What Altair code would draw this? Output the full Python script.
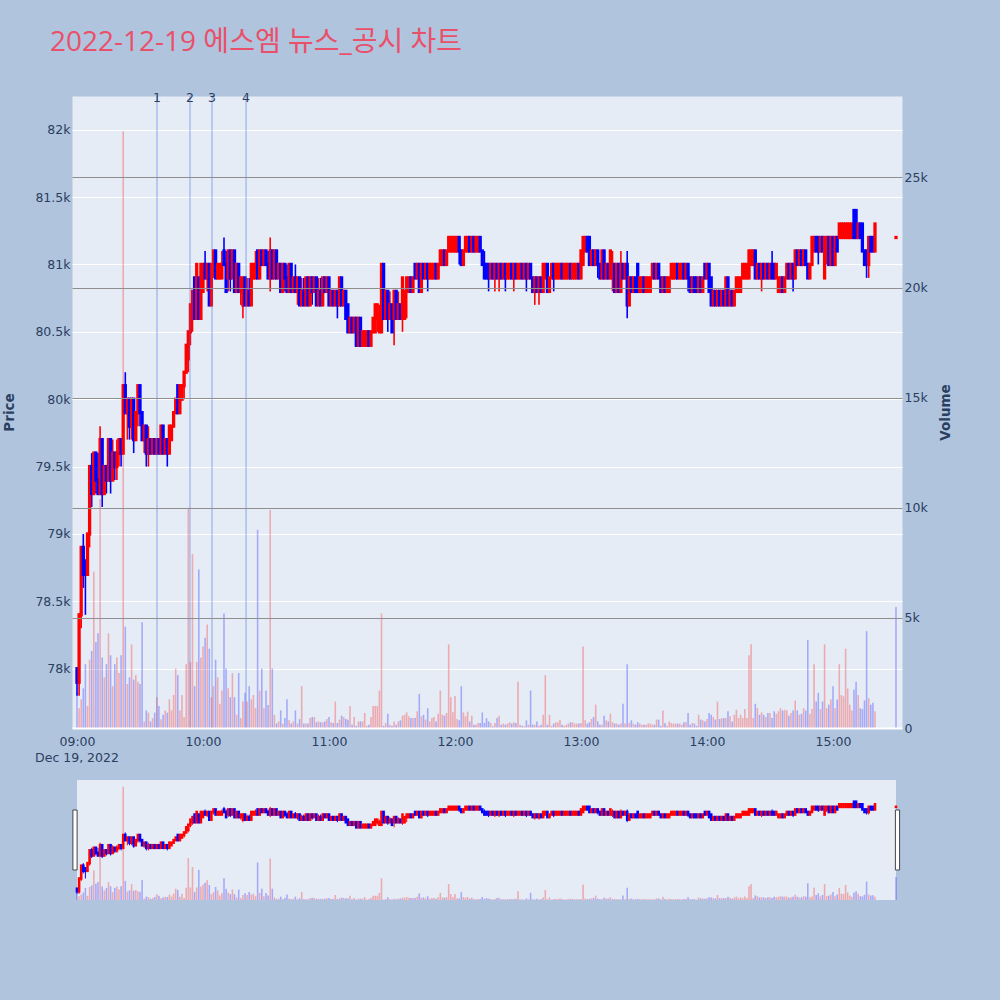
import altair as alt
import pandas as pd

# One-minute candles for 2022-12-19, 09:00 onwards (index = minutes after 09:00).
# Prices are written in units of 100 won (810 -> 81,000 won).
PRICE_UNIT = 100

open_ = [
    780, 779, 784, 789, 788, 787, 790, 795, 793, 796,
    794, 793, 797, 793, 795, 794, 797, 794, 796, 795,
    796, 797, 796, 801, 799, 800, 798, 800, 797, 799,
    801, 799, 797, 798, 796, 797, 796, 797, 796, 797,
    796, 798, 796, 797, 796, 797, 798, 799, 801, 799,
    800, 801, 802, 803, 805, 806, 809, 806, 809, 806,
    808, 810, 809, 810, 807, 810, 811, 809, 809, 809,
    811, 810, 809, 811, 809, 811, 808, 810, 808, 807,
    809, 807, 808, 807, 809, 809, 811, 809, 811, 810,
    811, 810, 809, 811, 809, 811, 809, 810, 808, 810,
    809, 808, 810, 808, 809, 808, 809, 807, 808, 807,
    809, 807, 809, 808, 809, 807, 808, 807, 809, 808,
    809, 807, 808, 807, 808, 807, 809, 807, 808, 807,
    805, 806, 805, 806, 804, 806, 804, 804, 804, 805,
    804, 805, 805, 806, 805, 805, 810, 806, 808, 806,
    807, 806, 808, 806, 807, 806, 806, 808, 808, 809,
    808, 810, 809, 810, 808, 810, 809, 810, 809, 809,
    809, 810, 809, 810, 810, 811, 810, 811, 811, 811,
    811, 811, 812, 811, 810, 811, 811, 812, 811, 812,
    811, 811, 812, 811, 810, 810, 810, 809, 810, 809,
    810, 809, 810, 809, 810, 809, 809, 810, 809, 810,
    809, 809, 810, 809, 810, 809, 810, 809, 808, 809,
    808, 809, 808, 809, 810, 808, 809, 810, 809, 809,
    809, 810, 809, 809, 809, 810, 809, 809, 809, 810,
    809, 810, 811, 812, 812, 810, 811, 810, 811, 810,
    809, 811, 809, 810, 809, 809, 810, 808, 810, 808,
    810, 809, 810, 807, 809, 808, 809, 810, 808, 808,
    809, 808, 808, 808, 809, 810, 809, 810, 809, 808,
    809, 808, 808, 809, 809, 809, 810, 809, 809, 810,
    809, 810, 809, 808, 809, 809, 808, 809, 808, 810,
    809, 810, 809, 807, 808, 807, 808, 807, 808, 807,
    809, 807, 808, 807, 808, 808, 808, 809, 809, 809,
    809, 810, 810, 811, 809, 810, 809, 810, 809, 810,
    809, 810, 810, 809, 808, 808, 809, 808, 809, 810,
    809, 810, 809, 811, 810, 811, 810, 811, 810, 809,
    810, 811, 812, 812, 811, 812, 809, 811, 812, 810,
    812, 810, 812, 812, 812, 812, 812, 812, 812, 812,
    814, 814, 812, 813, 813, 811, 811, 810, 812, 812,
    811,
]

high = [
    780, 784, 789, 790, 788, 790, 795, 796, 796, 796,
    796, 798, 797, 795, 795, 797, 797, 797, 796, 797,
    797, 797, 801, 802, 800, 800, 800, 800, 799, 801,
    801, 799, 798, 798, 798, 797, 797, 797, 797, 797,
    798, 798, 797, 797, 798, 798, 799, 800, 801, 801,
    801, 802, 804, 805, 807, 808, 809, 810, 809, 810,
    810, 811, 810, 810, 810, 811, 811, 810, 810, 811,
    812, 811, 811, 811, 811, 811, 810, 810, 809, 809,
    809, 809, 809, 810, 810, 811, 811, 811, 811, 811,
    811, 811, 812, 811, 811, 811, 810, 810, 810, 810,
    810, 810, 810, 809, 810, 809, 809, 809, 809, 809,
    809, 809, 809, 809, 809, 809, 809, 809, 809, 809,
    809, 808, 808, 808, 808, 809, 809, 808, 808, 807,
    806, 806, 806, 806, 806, 806, 805, 805, 805, 805,
    805, 806, 807, 807, 807, 810, 810, 808, 808, 808,
    807, 808, 808, 808, 807, 809, 808, 809, 809, 809,
    809, 810, 810, 810, 810, 810, 810, 810, 810, 810,
    810, 810, 810, 811, 811, 811, 811, 812, 812, 812,
    812, 812, 812, 811, 811, 812, 812, 812, 812, 812,
    812, 812, 812, 811, 811, 810, 810, 810, 810, 810,
    810, 810, 810, 810, 810, 810, 810, 810, 810, 810,
    810, 810, 810, 810, 810, 810, 810, 809, 809, 809,
    809, 809, 810, 810, 810, 809, 810, 810, 810, 810,
    810, 810, 810, 810, 810, 810, 810, 810, 810, 810,
    811, 812, 812, 812, 812, 811, 811, 811, 811, 810,
    811, 811, 810, 810, 811, 811, 810, 810, 810, 811,
    810, 810, 811, 809, 809, 809, 809, 810, 809, 809,
    809, 809, 809, 809, 810, 810, 810, 810, 809, 809,
    809, 809, 809, 810, 810, 810, 810, 810, 810, 810,
    810, 810, 809, 809, 809, 809, 809, 809, 809, 810,
    810, 810, 809, 808, 808, 808, 808, 808, 808, 809,
    809, 808, 808, 808, 809, 809, 809, 810, 810, 810,
    811, 811, 811, 811, 810, 810, 810, 810, 810, 810,
    810, 811, 810, 810, 809, 809, 809, 809, 810, 810,
    810, 810, 811, 811, 811, 811, 811, 811, 810, 810,
    812, 812, 812, 812, 812, 812, 812, 812, 812, 812,
    812, 812, 812, 813, 813, 813, 813, 813, 813, 813,
    814, 814, 813, 813, 813, 811, 811, 812, 812, 812,
    813,
]

low = [
    778, 778, 783, 786, 784, 787, 789, 792, 793, 793,
    793, 793, 792, 793, 793, 794, 793, 794, 794, 794,
    795, 795, 796, 799, 797, 797, 797, 796, 797, 798,
    798, 797, 796, 795, 795, 796, 796, 796, 796, 796,
    796, 796, 796, 795, 796, 797, 798, 799, 799, 799,
    800, 800, 802, 802, 804, 805, 806, 806, 806, 806,
    808, 809, 808, 807, 807, 809, 809, 809, 809, 809,
    810, 808, 808, 808, 809, 808, 808, 808, 807, 806,
    807, 807, 807, 807, 809, 809, 809, 809, 810, 810,
    810, 809, 808, 809, 809, 809, 809, 808, 808, 808,
    808, 808, 808, 808, 808, 807, 807, 807, 807, 807,
    807, 807, 807, 808, 807, 807, 807, 807, 808, 808,
    807, 807, 807, 807, 806, 807, 807, 807, 806, 805,
    805, 805, 805, 804, 804, 804, 804, 804, 804, 804,
    804, 805, 805, 805, 805, 805, 806, 806, 805, 806,
    805, 804, 806, 806, 806, 805, 806, 806, 808, 808,
    808, 809, 809, 808, 808, 809, 809, 808, 809, 809,
    809, 809, 809, 810, 810, 810, 810, 811, 811, 811,
    811, 811, 810, 810, 810, 811, 811, 811, 811, 811,
    811, 811, 811, 810, 809, 809, 808, 809, 809, 808,
    809, 808, 809, 809, 808, 809, 809, 809, 808, 809,
    809, 809, 809, 809, 808, 809, 809, 808, 807, 808,
    807, 808, 808, 809, 808, 808, 809, 808, 809, 809,
    809, 809, 809, 809, 809, 809, 809, 809, 809, 809,
    809, 810, 811, 811, 810, 810, 810, 810, 809, 809,
    809, 809, 809, 809, 809, 808, 808, 808, 808, 808,
    809, 809, 806, 807, 808, 808, 808, 808, 808, 808,
    808, 808, 808, 808, 809, 809, 809, 809, 808, 808,
    808, 808, 808, 809, 809, 809, 809, 809, 809, 809,
    809, 808, 808, 808, 808, 808, 808, 808, 808, 809,
    809, 808, 807, 807, 807, 807, 807, 807, 807, 807,
    807, 807, 807, 807, 808, 808, 808, 809, 809, 809,
    809, 810, 810, 809, 809, 809, 808, 809, 809, 809,
    809, 809, 809, 809, 808, 808, 808, 808, 809, 809,
    809, 808, 809, 810, 810, 810, 810, 810, 809, 809,
    810, 811, 811, 810, 811, 811, 809, 810, 810, 810,
    810, 810, 811, 812, 812, 812, 812, 812, 812, 812,
    812, 812, 812, 812, 811, 810, 809, 809, 811, 811,
    811,
]

close = [
    779, 784, 789, 787, 787, 790, 795, 793, 796, 794,
    793, 797, 793, 795, 794, 797, 794, 796, 795, 796,
    797, 796, 801, 799, 800, 798, 800, 797, 799, 801,
    799, 797, 798, 796, 797, 796, 797, 796, 797, 796,
    798, 796, 797, 796, 798, 798, 799, 800, 799, 801,
    801, 802, 804, 805, 807, 808, 806, 810, 806, 810,
    810, 809, 810, 807, 810, 811, 809, 810, 810, 810,
    810, 808, 811, 809, 811, 808, 810, 808, 809, 809,
    807, 808, 807, 810, 810, 810, 809, 811, 810, 811,
    810, 809, 811, 809, 811, 809, 810, 808, 810, 809,
    808, 810, 808, 809, 808, 809, 807, 808, 807, 809,
    807, 809, 808, 809, 807, 808, 807, 809, 808, 809,
    807, 808, 807, 808, 807, 809, 807, 808, 806, 805,
    806, 805, 806, 804, 806, 804, 805, 805, 805, 804,
    805, 806, 807, 807, 806, 810, 806, 808, 806, 807,
    805, 808, 806, 807, 806, 809, 808, 809, 809, 808,
    809, 809, 810, 808, 810, 809, 810, 809, 810, 810,
    810, 809, 810, 811, 811, 810, 811, 812, 812, 812,
    812, 812, 811, 810, 811, 812, 812, 811, 812, 811,
    812, 812, 811, 810, 809, 809, 809, 810, 809, 810,
    809, 810, 809, 810, 809, 810, 810, 809, 810, 809,
    810, 810, 809, 810, 809, 810, 809, 808, 809, 808,
    809, 808, 810, 810, 808, 809, 810, 809, 810, 810,
    810, 809, 810, 810, 810, 809, 810, 810, 810, 809,
    811, 812, 812, 811, 810, 811, 810, 811, 810, 809,
    811, 809, 810, 809, 811, 810, 808, 810, 808, 810,
    809, 810, 807, 809, 808, 809, 808, 808, 809, 809,
    808, 809, 809, 809, 810, 809, 810, 809, 808, 809,
    808, 809, 809, 810, 810, 810, 809, 810, 810, 809,
    810, 809, 808, 809, 808, 808, 809, 808, 809, 809,
    810, 808, 807, 808, 807, 808, 807, 808, 807, 809,
    807, 808, 807, 808, 809, 809, 809, 810, 810, 810,
    811, 811, 811, 809, 810, 809, 810, 809, 810, 809,
    810, 809, 809, 810, 809, 809, 808, 809, 810, 809,
    810, 809, 811, 810, 811, 810, 811, 810, 809, 810,
    812, 812, 811, 811, 812, 811, 812, 812, 810, 812,
    810, 812, 811, 813, 813, 813, 813, 813, 813, 813,
    812, 812, 813, 812, 811, 810, 810, 812, 811, 811,
    813,
]

volume = [
    1600, 900, 1300, 1800, 2900, 1000, 3100, 3500, 7100, 3900,
    4300, 10400, 3200, 2300, 2900, 4300, 3300, 1900, 2900, 3200,
    2500, 3300, 27100, 4600, 2000, 2300, 3800, 2200, 2400, 2100,
    2000, 4800, 300, 800, 700, 300, 450, 700, 1400, 1000,
    400, 600, 800, 700, 1300, 800, 1500, 2700, 2400, 800,
    1500, 500, 2900, 10000, 3000, 7900, 1900, 3000, 7200, 3200,
    3700, 4100, 4700, 3600, 1400, 1900, 3100, 2300, 1100, 1700,
    5200, 2700, 1800, 1400, 2500, 1400, 600, 2500, 450, 1200,
    1600, 1200, 1900, 1300, 1500, 900, 9000, 1700, 2700, 900,
    1700, 1050, 9900, 2700, 600, 200, 300, 800, 200, 450,
    1300, 350, 200, 300, 800, 200, 400, 1900, 200, 200,
    200, 450, 500, 500, 260, 300, 260, 260, 300, 410,
    500, 260, 230, 1200, 230, 380, 560, 500, 410, 380,
    1000, 150, 500, 100, 300, 300, 300, 680, 100, 150,
    500, 1000, 1000, 1000, 1700, 5200, 100, 230, 650, 150,
    100, 300, 150, 300, 350, 560, 600, 710, 530, 450,
    450, 450, 760, 1550, 530, 600, 380, 900, 300, 450,
    500, 300, 650, 1700, 600, 560, 680, 3800, 1400, 710,
    1450, 410, 350, 1900, 710, 530, 740, 300, 560, 150,
    150, 230, 230, 710, 230, 450, 300, 230, 80, 230,
    450, 560, 150, 200, 150, 200, 260, 200, 260, 230,
    2100, 150, 100, 80, 350, 150, 1700, 150, 150, 300,
    100, 150, 600, 2400, 150, 600, 100, 200, 260, 260,
    380, 150, 100, 150, 200, 260, 260, 200, 200, 200,
    230, 3700, 350, 200, 260, 410, 500, 1060, 300, 150,
    150, 560, 350, 300, 650, 260, 200, 200, 150, 200,
    1100, 200, 2900, 230, 350, 200, 150, 260, 200, 150,
    150, 150, 200, 200, 150, 150, 380, 380, 100, 800,
    230, 100, 300, 230, 200, 200, 200, 200, 150, 260,
    260, 680, 150, 230, 200, 100, 600, 380, 350, 300,
    410, 680, 600, 500, 380, 1200, 410, 450, 450, 450,
    760, 530, 300, 600, 830, 450, 600, 450, 860, 450,
    3300, 3800, 450, 1100, 900, 600, 710, 600, 500, 680,
    680, 450, 760, 650, 760, 900, 800, 830, 800, 560,
    680, 800, 1250, 800, 600, 650, 900, 800, 4000, 650,
    860, 2900, 1200, 1600, 860, 1200, 3800, 900, 1060, 1290,
    1900, 900, 1290, 2900, 1500, 1440, 3600, 1800, 1060, 800,
    1750, 2100, 1500, 900, 860, 1250, 4400, 1350, 1060, 1150,
    760,
]

# Closing single-price auction print
closing_time = "15:30"
closing_price = 812
closing_volume = 5500

# News / disclosure markers
news_times = ["09:38:06", "09:53:48", "10:04:18", "10:20:30"]
news_labels = ["1", "2", "3", "4"]

trade_date = "Dec 19, 2022"
title_text = "2022-12-19 에스엠 뉴스_공시 차트"

price_ticks = [78000, 78500, 79000, 79500, 80000, 80500, 81000, 81500, 82000]
volume_ticks = [0, 5000, 10000, 15000, 20000, 25000]
hour_ticks = [0, 60, 120, 180, 240, 300, 360]

UP, DOWN = "#FF0000", "#0000FF"
INK = "#2a3f5f"
FONT = "DejaVu Sans"
TICK_SIZE = 12.5


def to_minutes(hms):
    parts = [int(p) for p in hms.split(":")]
    secs = parts[2] / 60 if len(parts) > 2 else 0
    return (parts[0] - 9) * 60 + parts[1] + secs


rows = []
for i, (o, h, l, c, v) in enumerate(zip(open_, high, low, close, volume)):
    d = "up" if c >= o else "down"
    rows.append(dict(t=i, open=o * PRICE_UNIT, high=h * PRICE_UNIT, low=l * PRICE_UNIT,
                     close=c * PRICE_UNIT, volume=v, candle_dir=d, volume_dir=d))
rows.append(dict(t=to_minutes(closing_time), open=closing_price * PRICE_UNIT,
                 high=closing_price * PRICE_UNIT, low=closing_price * PRICE_UNIT,
                 close=closing_price * PRICE_UNIT, volume=closing_volume,
                 candle_dir="up", volume_dir="down"))
df = pd.DataFrame(rows)

news_df = pd.DataFrame({"t": [to_minutes(s) for s in news_times], "label": news_labels})
date_df = pd.DataFrame({"t": [0], "label": [trade_date]})
span_df = pd.DataFrame({"start": [0], "end": [to_minutes(closing_time)]})
handle_left = pd.DataFrame({"t": [0]})
handle_right = pd.DataFrame({"t": [to_minutes(closing_time)]})

W, H = 830, 632
SH = 120
GAP = 52

x_scale = alt.Scale(domain=[-2.38, 392.86], nice=False, zero=False, padding=0)
price_scale = alt.Scale(domain=[77560, 82250], nice=False, zero=False)
vol_scale = alt.Scale(domain=[0, 28700], nice=False)
dir_scale = alt.Scale(domain=["up", "down"], range=[UP, DOWN])

x_axis = alt.Axis(values=hour_ticks,
                  labelExpr="(datum.value < 60 ? '0' : '') + (9 + datum.value / 60) + ':00'",
                  grid=False, ticks=False, domain=False, labelPadding=7,
                  labelFontSize=TICK_SIZE, labelColor=INK, labelFont=FONT, title=None)
X = alt.X("t:Q", scale=x_scale, axis=x_axis)

price_axis = alt.Axis(values=price_ticks, format="~s", grid=True, gridColor="white",
                      gridWidth=1, ticks=False, domain=False, labelPadding=2,
                      labelFontSize=TICK_SIZE, labelColor=INK, labelFont=FONT,
                      title="Price", titleFontSize=13.5, titleFontWeight="bold",
                      titleColor=INK, titleFont=FONT, titlePadding=18, orient="left")
vol_axis = alt.Axis(values=volume_ticks, orient="right", grid=True,
                    labelExpr="datum.value === 0 ? '0' : format(datum.value, '~s')",
                    gridColor={"condition": {"test": "datum.value === 0", "value": "#ffffff"},
                               "value": "#8f8f8f"},
                    gridWidth={"condition": {"test": "datum.value === 0", "value": 2},
                               "value": 1},
                    ticks=False, domain=False, labelPadding=2, labelFontSize=TICK_SIZE,
                    labelColor=INK, labelFont=FONT, title="Volume", titleFontSize=13.5,
                    titleFontWeight="bold", titleColor=INK, titleFont=FONT,
                    titleAngle=270, titlePadding=25, zindex=1)

base = alt.Chart(df)
candle_color = alt.Color("candle_dir:N", scale=dir_scale, legend=None)
volume_color = alt.Color("volume_dir:N", scale=dir_scale, legend=None)

# --- main panel -------------------------------------------------------------
wick = base.mark_rule(strokeWidth=1.6).encode(
    x=X, y=alt.Y("low:Q", scale=price_scale, axis=price_axis), y2="high:Q",
    color=candle_color)
body = base.mark_rule(strokeWidth=3.3, strokeCap="square").encode(
    x=X, y=alt.Y("open:Q", scale=price_scale, axis=price_axis), y2="close:Q",
    color=candle_color)
price_layer = alt.layer(wick, body)

vol_bars = base.mark_bar(size=1.6, opacity=0.28).encode(
    x=X, y=alt.Y("volume:Q", scale=vol_scale, axis=vol_axis), color=volume_color)

news_lines = alt.Chart(news_df).mark_rule(color="#4169E1", opacity=0.45, strokeWidth=1.2).encode(x=X)
news_text = alt.Chart(news_df).mark_text(fontSize=TICK_SIZE, color=INK, font=FONT,
                                         baseline="middle").encode(
    x=X, y=alt.value(2), text="label:N")
date_text = alt.Chart(date_df).mark_text(fontSize=TICK_SIZE, color=INK, font=FONT,
                                         baseline="middle").encode(
    x=X, y=alt.value(H + 30), text="label:N")

main = alt.layer(price_layer, vol_bars, news_lines, news_text, date_text).resolve_scale(
    y="independent").properties(width=W, height=H,
                                view=alt.ViewBackground(fill="#E5ECF6", stroke="transparent"))

# --- range slider -----------------------------------------------------------
XS = alt.X("t:Q", scale=x_scale, axis=None)
slider_bg = alt.Chart(span_df).mark_rect(color="#E5ECF6").encode(
    x=alt.X("start:Q", scale=x_scale, axis=None), x2="end:Q",
    y=alt.value(0), y2=alt.value(SH))
s_wick = base.mark_rule(strokeWidth=1).encode(
    x=XS, y=alt.Y("low:Q", scale=price_scale, axis=None), y2="high:Q", color=candle_color)
s_body = base.mark_rule(strokeWidth=2.6, strokeCap="square").encode(
    x=XS, y=alt.Y("open:Q", scale=price_scale, axis=None), y2="close:Q", color=candle_color)
s_price = alt.layer(s_wick, s_body)
s_vol = base.mark_bar(size=1.6, opacity=0.28).encode(
    x=XS, y=alt.Y("volume:Q", scale=vol_scale, axis=None), color=volume_color)

handle_shape = "M-0.07,-1H0.07V1H-0.07Z"
h_left = alt.Chart(handle_left).mark_point(shape=handle_shape, size=3600, filled=True,
                                           fill="white", stroke="#444444", strokeWidth=1,
                                           opacity=1, xOffset=-2).encode(x=XS, y=alt.value(60))
h_right = alt.Chart(handle_right).mark_point(shape=handle_shape, size=3600, filled=True,
                                             fill="white", stroke="#444444", strokeWidth=1,
                                             opacity=1, xOffset=1.5).encode(x=XS, y=alt.value(60))

slider = alt.layer(slider_bg, s_price, s_vol, h_left, h_right).resolve_scale(
    y="independent").properties(width=W, height=SH,
                                view=alt.ViewBackground(fill="transparent", stroke="transparent"))

# The page is 1000 px square; the plot area starts at (72, 96).
chart = alt.vconcat(main, slider, spacing=GAP, bounds="flush").resolve_scale(
    x="independent", y="independent", color="independent"
).properties(
    title=alt.TitleParams(text=title_text, anchor="start", frame="group", dx=-22,
                          offset=35, fontSize=28, fontWeight="normal",
                          font="Open Sans, Noto Sans CJK KR", color="#E9506A"),
    background="#B0C4DE",
    padding={"left": 72, "top": 96, "right": 1000 - 72 - W, "bottom": 1000 - 96},
    autosize=alt.AutoSizeParams(type="none"),
).configure_view(stroke=None)

chart.save("out.html", embed_options={"renderer": "svg", "actions": False})
